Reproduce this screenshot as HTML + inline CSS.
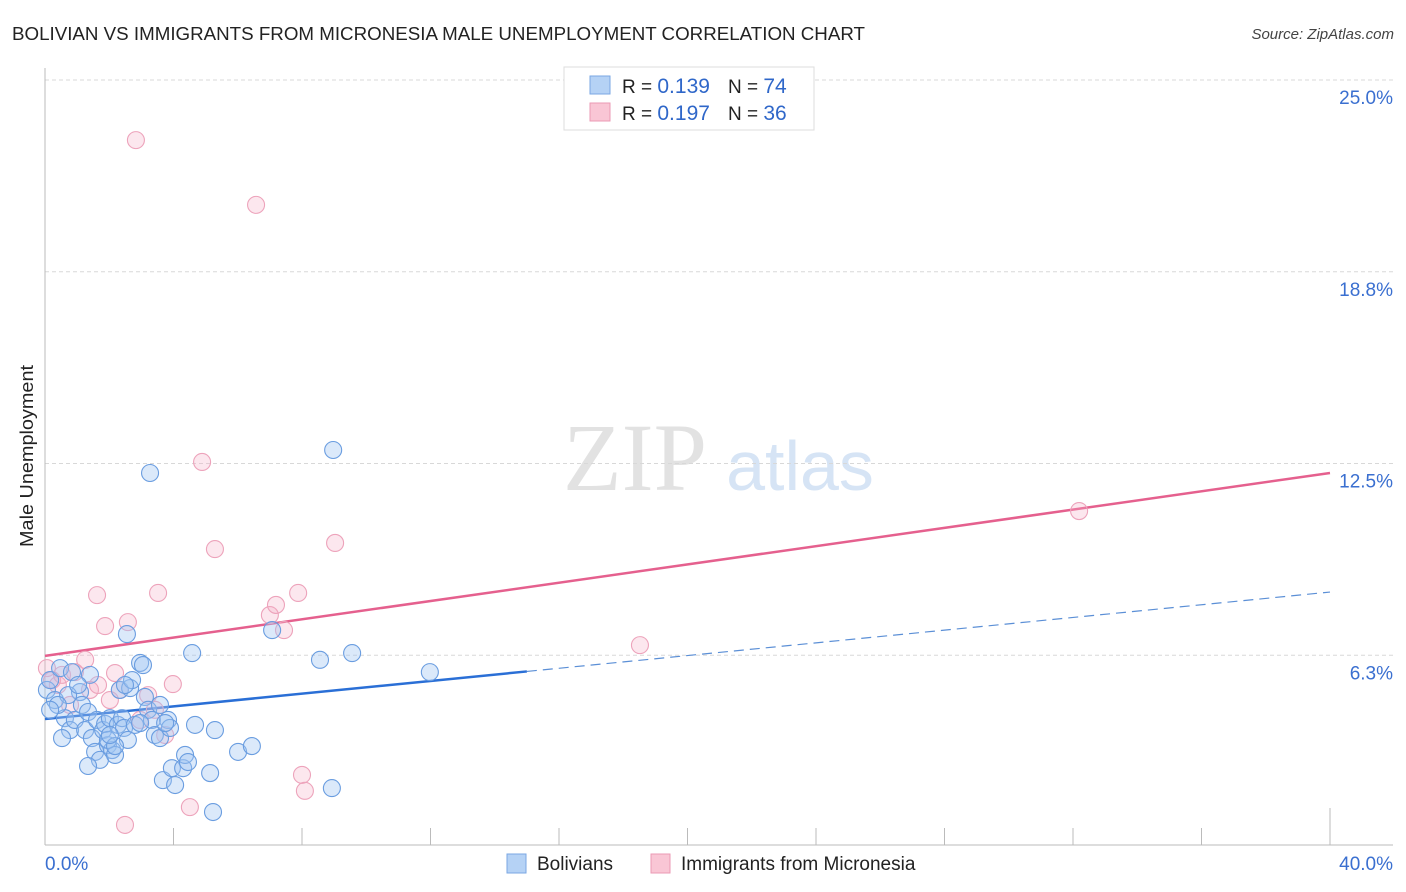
<!DOCTYPE html>
<html><head><meta charset="utf-8"><style>
body{margin:0;background:#fff;font-family:"Liberation Sans",sans-serif;}
svg{display:block}
</style></head><body>
<svg id="chart" width="1406" height="892" font-family="Liberation Sans, sans-serif">
<text x="12" y="40" font-size="18" fill="#222" textLength="853" lengthAdjust="spacingAndGlyphs">BOLIVIAN VS IMMIGRANTS FROM MICRONESIA MALE UNEMPLOYMENT CORRELATION CHART</text>
<text x="1394" y="39" font-size="15" fill="#444" font-style="italic" text-anchor="end">Source: ZipAtlas.com</text>
<text x="33" y="456" font-size="18" fill="#222" text-anchor="middle" textLength="182" lengthAdjust="spacingAndGlyphs" transform="rotate(-90 33 456)">Male Unemployment</text>
<g>
<text x="635" y="490" font-size="96" fill="#e2e2e2" font-family="Liberation Serif, serif" text-anchor="middle">ZIP</text>
<text x="800" y="490" font-size="70" fill="#d6e4f5" text-anchor="middle">atlas</text>
</g>
<g id="grid"></g><g id="axes"></g><g id="trend"></g><g id="pts"></g>
<g>
<rect x="564" y="67" width="250" height="63" fill="#fff" stroke="#ddd"/>
<rect x="590" y="76" width="20" height="18" fill="#b5d2f5" stroke="#7aa7e3"/>
<rect x="590" y="103" width="20" height="18" fill="#f9c6d5" stroke="#eb9ab4"/>
<text x="622" y="93" font-size="19" fill="#222">R = <tspan fill="#2f67c9" font-size="21">0.139</tspan><tspan dx="18">N = </tspan><tspan fill="#2f67c9" font-size="21">74</tspan></text>
<text x="622" y="120" font-size="19" fill="#222">R = <tspan fill="#2f67c9" font-size="21">0.197</tspan><tspan dx="18">N = </tspan><tspan fill="#2f67c9" font-size="21">36</tspan></text>
</g>
<g>
<rect x="507" y="854" width="19" height="19" fill="#b5d2f5" stroke="#7aa7e3"/>
<text x="537" y="870" font-size="19" fill="#222">Bolivians</text>
<rect x="651" y="854" width="19" height="19" fill="#f9c6d5" stroke="#eb9ab4"/>
<text x="681" y="870" font-size="19" fill="#222">Immigrants from Micronesia</text>
</g>
</svg>
<script>
const yTicks=[6.25,12.5,18.75,25];
const yTickLabels=["6.3%","12.5%","18.8%","25.0%"];
const xTickCount=10;
const blueX=[0.06,0.16,0.31,0.47,0.62,0.78,0.84,0.93,1.09,1.15,1.25,1.34,1.40,1.46,1.56,1.62,1.71,1.81,1.87,1.96,2.02,2.09,2.18,2.27,2.33,2.40,2.46,2.55,2.58,2.65,2.71,2.80,2.96,3.05,3.11,3.21,3.27,3.33,3.42,3.58,3.67,3.83,3.89,3.95,4.05,4.30,4.36,4.45,4.58,5.14,5.23,5.29,6.01,6.44,7.07,8.56,8.97,8.93,9.56,11.98,0.53,0.72,1.03,0.40,1.96,2.18,3.58,3.74,2.49,0.16,2.96,4.67,1.34,2.02];
const blueY=[5.12,5.44,4.79,5.83,4.20,3.81,5.70,4.14,5.05,4.63,3.81,4.40,5.61,3.55,3.10,4.14,2.84,3.81,4.01,3.32,4.20,3.16,3.00,3.98,5.12,4.20,3.88,6.94,3.49,5.18,5.44,3.98,6.00,5.93,4.89,4.47,12.19,4.14,3.65,3.55,2.18,4.14,3.88,2.57,2.02,2.57,3.00,2.77,6.32,2.41,1.14,3.81,3.10,3.29,7.07,6.10,12.94,1.92,6.32,5.70,3.55,4.95,5.28,4.63,3.49,3.29,4.63,4.04,5.28,4.47,4.04,3.98,2.64,3.65];
const pinkX=[0.06,0.22,0.40,0.53,0.93,1.25,1.40,1.62,1.65,1.87,2.18,2.33,2.58,2.83,2.96,3.21,3.42,3.52,3.74,3.98,4.51,4.89,5.29,6.57,7.00,7.19,7.44,7.88,8.00,8.09,9.03,2.49,18.52,32.19,0.78,2.02];
const pinkY=[5.83,5.44,5.28,5.61,5.70,6.10,5.12,8.21,5.28,7.20,5.67,5.12,7.33,23.04,4.14,4.95,4.47,8.28,3.65,5.31,1.30,12.55,9.71,20.93,7.56,7.89,7.07,8.28,2.35,1.83,9.91,0.72,6.58,10.95,4.63,4.79];
const blueTrend=[4.17,0.1035];
const pinkTrend=[6.23,0.149];
const blueSolidEnd=15;

const NS="http://www.w3.org/2000/svg";
const X0=45,X1=1330,Y0=847,YT=80;
const sx=v=>X0+v/40*(X1-X0);
const sy=v=>Y0-v/25*(Y0-YT);
function mk(tag,attrs,parent){const e=document.createElementNS(NS,tag);for(const k in attrs)e.setAttribute(k,attrs[k]);parent.appendChild(e);return e;}
const grid=document.getElementById('grid'),axes=document.getElementById('axes'),trend=document.getElementById('trend'),pts=document.getElementById('pts');
yTicks.forEach((t,i)=>{
 const l=mk('line',{x1:X0,x2:1393,y1:sy(t),y2:sy(t),stroke:'#d8d8d8','stroke-dasharray':'4,3'},grid);
 
 
 const tx=mk('text',{x:1393,y:sy(t)+24,'font-size':19,fill:'#3a6fd0','text-anchor':'end'},grid);
 tx.textContent=yTickLabels[i];
 
 
});
const ax=mk('line',{x1:X0,x2:X0,y1:68,y2:845,stroke:'#bbb'},axes);


const bx=mk('line',{x1:X0,x2:1393,y1:845,y2:845,stroke:'#bbb'},axes);


for(let i=0;i<=xTickCount;i++){
 const x=sx(i*40/xTickCount);
 const t=mk('line',{x1:x,x2:x,y1:i==xTickCount?808:828,y2:845,stroke:'#bbb'},axes);
 
 
}
const xl0=mk('text',{x:45,y:870,'font-size':19,fill:'#3a6fd0'},axes);xl0.textContent="0.0%";


const xl1=mk('text',{x:1393,y:870,'font-size':19,fill:'#3a6fd0','text-anchor':'end'},axes);xl1.textContent="40.0%";


function dot(x,y,fill,stroke){const c=mk('circle',{cx:sx(x),cy:sy(y),r:8.5,fill:fill,stroke:stroke,'stroke-width':1.1},pts);return c;}
for(let i=0;i<pinkX.length;i++){const c=dot(pinkX[i],pinkY[i],'rgba(246,176,198,0.3)','#eda3bb');
 
 }
for(let i=0;i<blueX.length;i++){const c=dot(blueX[i],blueY[i],'rgba(160,198,242,0.38)','#6a9de0');
 
 }
const bt=v=>blueTrend[0]+blueTrend[1]*v, pt=v=>pinkTrend[0]+pinkTrend[1]*v;
const l1=mk('line',{x1:sx(0),y1:sy(bt(0)),x2:sx(blueSolidEnd),y2:sy(bt(blueSolidEnd)),stroke:'#2a6fd6','stroke-width':2.5},trend);


const l2=mk('line',{x1:sx(blueSolidEnd),y1:sy(bt(blueSolidEnd)),x2:sx(40),y2:sy(bt(40)),stroke:'#5b8fd6','stroke-width':1.2,'stroke-dasharray':'10,6'},trend);


const l3=mk('line',{x1:sx(0),y1:sy(pt(0)),x2:sx(40),y2:sy(pt(40)),stroke:'#e5608e','stroke-width':2.5},trend);


</script>
</body></html>
